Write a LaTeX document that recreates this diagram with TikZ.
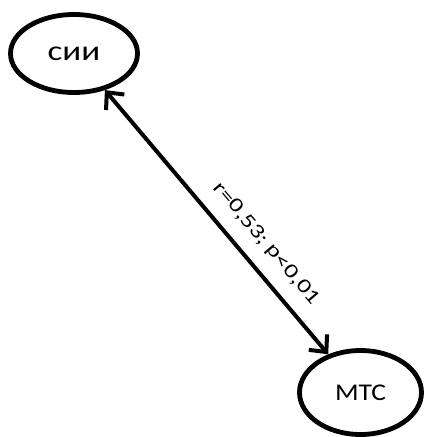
\documentclass[tikz,border=0pt]{standalone}
\usepackage{fontspec}
\usepackage{graphicx}
\setmainfont{Carlito}
\usetikzlibrary{arrows.meta,shapes.geometric}
\begin{document}
\begin{tikzpicture}[x=1pt,y=-1pt,
  circ/.style={draw,ellipse,line width=4.8pt,inner sep=0pt},
  conn/.style={line width=4pt,{Straight Barb[length=13pt,width=24pt,line width=4pt]}-{Straight Barb[length=13pt,width=24pt,line width=4pt]}},
  lbl/.style={font=\fontsize{20}{22}\selectfont}]
\useasboundingbox (0,0) rectangle (425,437);
\node[circ, minimum width=127pt, minimum height=78pt, font=\fontsize{28}{30}\selectfont] (a) at (74,53.5) {\scalebox{1.25}[1]{сии}};
\node[circ, minimum width=122pt, minimum height=84pt, font=\fontsize{24}{26}\selectfont] (b) at (360.5,392.5) {\scalebox{1.15}[1]{МТС}};
\draw[conn] (a) -- node[pos=0.64,sloped,above=14pt,lbl,inner sep=0pt] {\scalebox{1.3}[1]{r=0,53; p<0,01}} (b);
\end{tikzpicture}
\end{document}
